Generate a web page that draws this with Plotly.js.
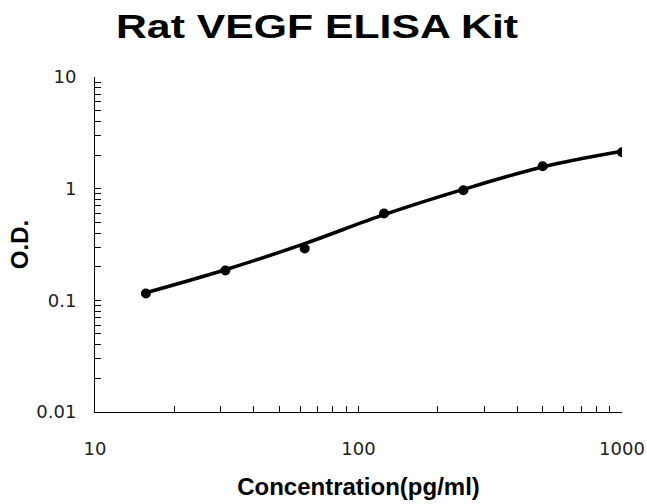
<!DOCTYPE html>
<html>
<head>
<meta charset="utf-8">
<script src="https://cdn.plot.ly/plotly-3.0.1.min.js"></script>
<style>html,body{margin:0;padding:0;background:#fff;}#chart{width:647px;height:504px;}</style>
</head>
<body>
<div id="chart"></div>
<script>
const titleText = "Rat VEGF ELISA Kit";
const xTitle = "Concentration(pg/ml)";
const yTitle = "O.D.";
const concentration = [15.6, 31.25, 62.5, 125, 250, 500, 1000];
const od = [0.115, 0.185, 0.291, 0.60, 0.968, 1.59, 2.12];
const fitOd = [0.117, 0.188, 0.322, 0.585, 0.985, 1.565, 2.16];
const xTickVals = [10, 100, 1000];
const xTickText = ["10", "100", "1000"];
const yTickVals = [0.01, 0.1, 1, 10];
const yTickText = ["0.01", "0.1", "1", "10"];

function minorVals(lo, hi) {
  const out = [];
  for (let p = lo; p < hi; p++) {
    for (let d = 2; d <= 9; d++) out.push(d * Math.pow(10, p));
  }
  return out;
}

const fitTrace = {
  x: concentration,
  y: fitOd,
  type: "scatter",
  mode: "lines",
  line: {color: "#000", width: 3.5, shape: "spline", smoothing: 1},
  hoverinfo: "none"
};
const pointTrace = {
  x: concentration,
  y: od,
  type: "scatter",
  mode: "markers",
  marker: {color: "#000", size: 10},
  hoverinfo: "none"
};

const tickFont = {family: "DejaVu Sans, sans-serif", size: 18, color: "#222"};
const layout = {
  width: 647, height: 504,
  margin: {l: 95, r: 25, t: 77, b: 92},
  paper_bgcolor: "#fff", plot_bgcolor: "#fff",
  showlegend: false,
  title: {text: titleText, x: 0.49, xanchor: "center", y: 0.947, yanchor: "middle",
          font: {family: "Liberation Sans, Arial, sans-serif", size: 33, color: "#000", weight: "bold"}},
  xaxis: {
    type: "log", range: [1, 3],
    showline: true, linecolor: "#000", linewidth: 1,
    showgrid: false, zeroline: false,
    ticks: "inside", ticklen: 6, tickcolor: "#000",
    tickmode: "array", tickvals: xTickVals, ticktext: xTickText,
    ticklabelstandoff: 20,
    tickfont: tickFont,
    minor: {tickmode: "array", tickvals: minorVals(1, 3), ticks: "inside", ticklen: 6, tickcolor: "#000", showgrid: false},
    title: {text: xTitle, standoff: 20, font: {family: "Liberation Sans, Arial, sans-serif", size: 24, color: "#000", weight: "bold"}}
  },
  yaxis: {
    type: "log", range: [-2, 1],
    showline: true, linecolor: "#000", linewidth: 1,
    showgrid: false, zeroline: false,
    ticks: "inside", ticklen: 6, tickcolor: "#000",
    tickmode: "array", tickvals: yTickVals, ticktext: yTickText,
    ticklabelstandoff: 14,
    tickfont: tickFont,
    minor: {tickmode: "array", tickvals: minorVals(-2, 1), ticks: "inside", ticklen: 6, tickcolor: "#000", showgrid: false},
    title: {text: yTitle, standoff: 0, font: {family: "Liberation Sans, Arial, sans-serif", size: 24, color: "#000", weight: "bold"}}
  }
};

Plotly.newPlot("chart", [fitTrace, pointTrace], layout, {staticPlot: true, displayModeBar: false}).then(function (gd) {
  const t = gd.querySelector(".gtitle");
  if (t) {
    t.setAttribute("textLength", "402");
    t.setAttribute("lengthAdjust", "spacingAndGlyphs");
  }
});
</script>
</body>
</html>
